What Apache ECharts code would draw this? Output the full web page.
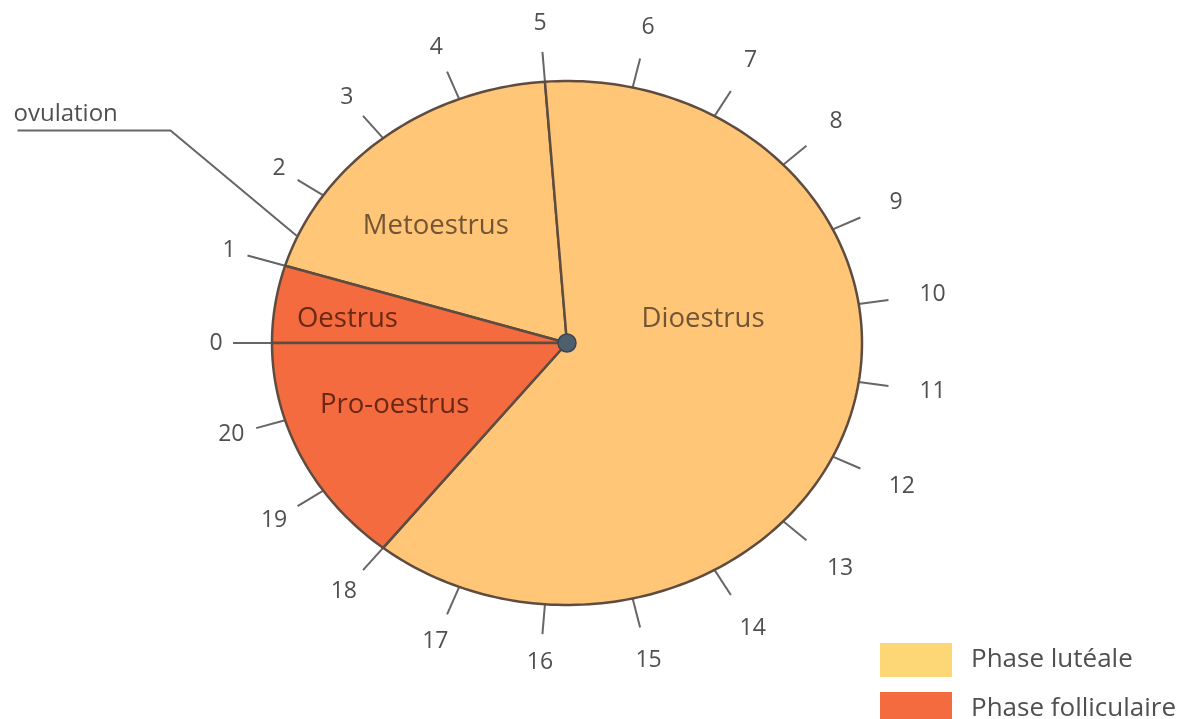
<!DOCTYPE html>
<html><head><meta charset="utf-8">
<script src="https://cdn.jsdelivr.net/npm/echarts@6/dist/echarts.min.js"></script>
<style>html,body{margin:0;padding:0;background:#fff}#c{width:1193px;height:719px}</style>
</head><body><div id="c"></div>
<script>
// ---- data ----
const phaseNames = ['Oestrus', 'Metoestrus', 'Dioestrus', 'Pro-oestrus'];
const phaseDays = [1, 4, 13, 3];
const phaseGroup = ['Phase folliculaire', 'Phase lutéale', 'Phase lutéale', 'Phase folliculaire'];
const legendNames = ['Phase lutéale', 'Phase folliculaire'];
const cycleLength = 21;
const dayTicks = [0,1,2,3,4,5,6,7,8,9,10,11,12,13,14,15,16,17,18,19,20];
const tickLabels = ['0','1','2','3','4','5','6','7','8','9','10','11','12','13','14','15','16','17','18','19','20'];
const ovulationDay = [1.4];
const ovulationText = 'ovulation';

// ---- layout / style ----
const K = 262 / 295; // vertical squash of the ellipse
const FONT = '"Open Sans", "Noto Sans", sans-serif';
const FILL = { 'Phase lutéale': '#FFC677', 'Phase folliculaire': '#F46B40' };
const LEGEND_COLOR = { 'Phase lutéale': '#FDD676', 'Phase folliculaire': '#F46B40' };
const TEXT_COLOR = { 'Phase lutéale': '#735535', 'Phase folliculaire': '#6A2814' };
const LABEL_ANCHOR = { 'Oestrus': [0.41, 0.75], 'Metoestrus': [2.63, 0.63], 'Dioestrus': [9.85, 0.47], 'Pro-oestrus': [19.72, 0.63] };
const LEGEND_TOP = [638, 687];

const starts = [], ends = [];
phaseDays.reduce((acc, v) => { starts.push(acc); ends.push(acc + v); return acc + v; }, 0);

function ept(api, day, f) {
  const c = api.coord([0, day]);
  const p = api.coord([1, day]);
  return [c[0] + (p[0] - c[0]) * f, c[1] + (p[1] - c[1]) * K * f];
}

function sectorSeries(group) {
  const idx = phaseNames.map((n, i) => i).filter(i => phaseGroup[i] === group);
  return {
    type: 'custom', name: group, coordinateSystem: 'polar', z: 2,
    itemStyle: { color: LEGEND_COLOR[group] },
    data: idx.map(i => ({ name: phaseNames[i], value: [starts[i], ends[i], i] })),
    renderItem: function (params, api) {
      const i = api.value(2);
      const s = api.value(0), e = api.value(1);
      const c = api.coord([0, s]);
      const n = Math.max(8, Math.ceil((e - s) * 14));
      const pts = [c];
      for (let k = 0; k <= n; k++) pts.push(ept(api, s + (e - s) * k / n, 1));
      const name = phaseNames[i];
      const a = LABEL_ANCHOR[name];
      const lp = ept(api, a[0], a[1]);
      return {
        type: 'group', children: [
          { type: 'polygon', shape: { points: pts },
            style: { fill: FILL[group], stroke: '#5E4C40', lineWidth: 2.5, lineJoin: 'round' } },
          { type: 'text', x: lp[0], y: lp[1],
            style: { text: name, fill: TEXT_COLOR[group], font: '500 27.5px ' + FONT, align: 'center', verticalAlign: 'middle' } }
        ]
      };
    }
  };
}

const option = {
  animation: false,
  backgroundColor: '#fff',
  polar: { center: [567, 343], radius: 295 },
  angleAxis: { type: 'value', min: 0, max: cycleLength, startAngle: 180, clockwise: true, show: false },
  radiusAxis: { type: 'value', min: 0, max: 1, show: false },
  legend: legendNames.map((n, i) => ({
    orient: 'vertical', left: 875, top: LEGEND_TOP[i], itemWidth: 72, itemHeight: 34,
    icon: 'rect', selectedMode: false,
    data: [{ name: n, itemStyle: { color: LEGEND_COLOR[n] } }],
    textStyle: { fontFamily: FONT, fontSize: 26, color: '#505050', padding: [0, 0, 0, 14] }
  })),
  series: [
    {
      type: 'custom', name: 'ticks', coordinateSystem: 'polar', z: 1, silent: true,
      data: dayTicks.map((d, i) => [d, i]),
      renderItem: function (params, api) {
        const d = api.value(0);
        const i = api.value(1);
        const c = api.coord([0, d]);
        const p = ept(api, d, 1);
        let dx = p[0] - c[0], dy = p[1] - c[1];
        const L = Math.hypot(dx, dy); dx /= L; dy /= L;
        const len = d <= 1 ? 39 : 30;
        const q = [p[0] + dx * len, p[1] + dy * len];
        const txt = tickLabels[i];
        const halfW = 6.8 * txt.length, halfH = 8.5;
        const gap = 10 + 10 * (1 + dx) + Math.abs(dx) * halfW + Math.abs(dy) * halfH;
        return {
          type: 'group', children: [
            { type: 'line', shape: { x1: p[0], y1: p[1], x2: q[0], y2: q[1] },
              style: { stroke: '#666', lineWidth: 2 } },
            { type: 'text', x: q[0] + dx * gap, y: q[1] + dy * gap,
              style: { text: txt, fill: '#505050', font: '23px ' + FONT, align: 'center', verticalAlign: 'middle' } }
          ]
        };
      }
    },
    sectorSeries('Phase lutéale'),
    sectorSeries('Phase folliculaire'),
    {
      type: 'custom', name: 'ovulation', coordinateSystem: 'polar', z: 3, silent: true,
      data: ovulationDay.map(d => [d]),
      renderItem: function (params, api) {
        const p = ept(api, api.value(0), 1);
        const elbow = [p[0] - 127, p[1] - 106];
        const st = [elbow[0] - 153, elbow[1]];
        return {
          type: 'group', children: [
            { type: 'polyline', shape: { points: [st, elbow, p] },
              style: { stroke: '#666', lineWidth: 2, fill: null } },
            { type: 'text', x: st[0] - 4, y: elbow[1] - 4,
              style: { text: ovulationText, fill: '#505050', font: '24px ' + FONT, align: 'left', verticalAlign: 'bottom' } }
          ]
        };
      }
    },
    {
      type: 'scatter', coordinateSystem: 'polar', z: 5, silent: true,
      data: [[0, 0]], symbolSize: 18,
      itemStyle: { color: '#4E5F6E', borderColor: '#3A4652', borderWidth: 1.5, opacity: 1 }
    }
  ]
};
const chart = echarts.init(document.getElementById('c'), null, { renderer: 'canvas' });
chart.setOption(option);
</script>
</body></html>
